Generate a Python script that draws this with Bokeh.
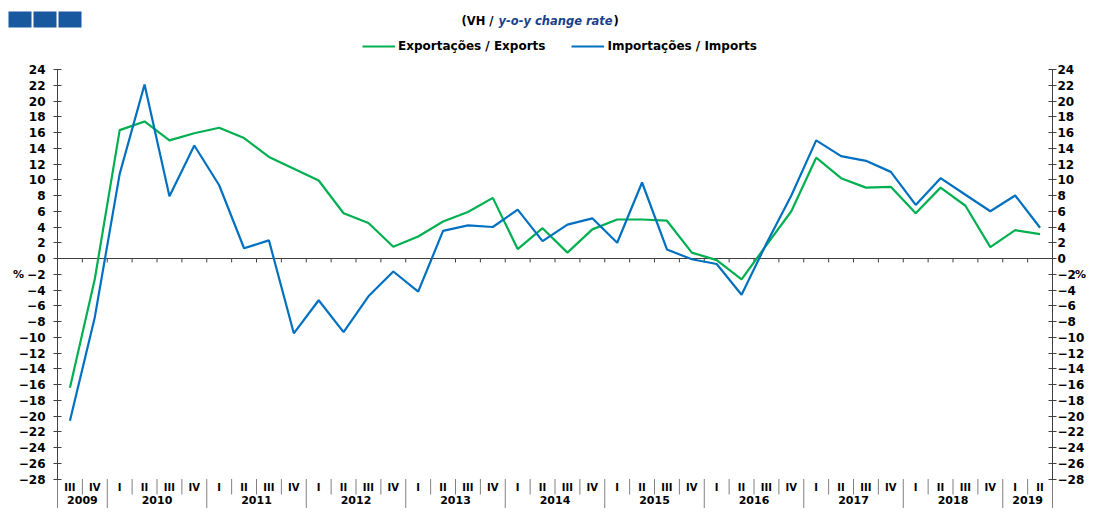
from bokeh.plotting import figure
from bokeh.models import (Range1d, LinearAxis, FixedTicker,
                          Legend, LegendItem)
from bokeh.core.properties import value
from bokeh.embed import file_html
from bokeh.resources import INLINE

# ---------------- data ----------------
quarters = ["III", "IV",
            "I", "II", "III", "IV",
            "I", "II", "III", "IV",
            "I", "II", "III", "IV",
            "I", "II", "III", "IV",
            "I", "II", "III", "IV",
            "I", "II", "III", "IV",
            "I", "II", "III", "IV",
            "I", "II", "III", "IV",
            "I", "II", "III", "IV",
            "I", "II"]
years = ["2009", "2010", "2011", "2012", "2013", "2014",
         "2015", "2016", "2017", "2018", "2019"]
year_quarters = [2, 4, 4, 4, 4, 4, 4, 4, 4, 4, 2]

exports = [-16.4, -2.6, 16.3, 17.4, 15.0, 15.9, 16.6, 15.3, 12.9, 11.4,
           9.9, 5.75, 4.5, 1.5, 2.8, 4.7, 5.9, 7.7, 1.2, 3.85,
           0.75, 3.7, 4.95, 4.95, 4.8, 0.75, -0.2, -2.65, 1.7, 6.0,
           12.8, 10.2, 9.0, 9.1, 5.75, 9.0, 6.7, 1.45, 3.6, 3.1]
imports = [-20.6, -7.45, 10.75, 22.1, 7.9, 14.35, 9.3, 1.3, 2.3, -9.5,
           -5.3, -9.35, -4.8, -1.65, -4.2, 3.5, 4.2, 4.0, 6.2, 2.2,
           4.3, 5.1, 2.0, 9.65, 1.15, -0.1, -0.7, -4.6, 1.9, 8.0,
           15.0, 13.0, 12.4, 11.0, 6.8, 10.2, 8.1, 6.0, 8.0, 3.9]
y_ticks = [-28, -26, -24, -22, -20, -18, -16, -14, -12, -10, -8, -6, -4, -2,
           0, 2, 4, 6, 8, 10, 12, 14, 16, 18, 20, 22, 24]

title_parts = ["(VH /", "y-o-y change rate", ")"]
series_names = ["Exportações / Exports", "Importações / Imports"]
unit_label = "%"

GREEN = "#00b050"
BLUE = "#0070c0"
AXIS = "#404040"
SEP = "#808080"
LOGO = "#17589f"
FONT = "DejaVu Sans"

W, H = 1086, 508

# ---------------- geometry helpers (screen px -> data) ----------------
PX = 24.875   # px per quarter
PY = 7.875    # px per 1 %
def sx(X):
    return (X - 57) / PX
def sy(Y):
    return 24 - (Y - 69) / PY

n = len(quarters)
xs = [i + 0.5 for i in range(n)]

p = figure(width=W, height=H,
           x_range=Range1d(sx(0), sx(W)), y_range=Range1d(sy(H), sy(0)),
           output_backend="svg", toolbar_location=None,
           x_axis_location=None, y_axis_location="left",
           min_border_left=0, min_border_right=0,
           min_border_top=0, min_border_bottom=0)
p.xgrid.visible = False
p.ygrid.visible = False
p.outline_line_color = None
p.background_fill_color = "white"
p.border_fill_color = "white"

right_axis = LinearAxis()
p.add_layout(right_axis, "right")

for ax, loc, standoff in ((p.yaxis[0], 0, 8), (right_axis, n, 1)):
    ax.fixed_location = loc
    ax.ticker = FixedTicker(ticks=y_ticks)
    ax.bounds = (y_ticks[0], y_ticks[-1])
    ax.axis_line_color = AXIS
    ax.major_tick_line_color = AXIS
    ax.major_tick_in = 4
    ax.major_tick_out = 4
    ax.minor_tick_in = 0
    ax.minor_tick_out = 0
    ax.major_label_standoff = standoff
    ax.major_label_text_font = FONT
    ax.major_label_text_font_style = "bold"
    ax.major_label_text_font_size = "12px"
    ax.major_label_text_color = "black"

# zero line (category axis) with boundary ticks
bx = list(range(1, n))
p.segment(x0=[0], y0=[0], x1=[n], y1=[0], line_color=AXIS, line_width=1)
p.segment(x0=bx, y0=[0] * len(bx), x1=bx, y1=[-0.5] * len(bx),
          line_color=AXIS, line_width=1)

# series
r_exp = p.line(xs, exports, line_color=GREEN, line_width=2.2)
r_imp = p.line(xs, imports, line_color=BLUE, line_width=2.2)

# two-level category labels below the plot
year_bounds = [0]
for q in year_quarters:
    year_bounds.append(year_bounds[-1] + q)
quarter_bounds = [b for b in range(1, n) if b not in year_bounds]
yb = y_ticks[0]
p.segment(x0=quarter_bounds, y0=[yb] * len(quarter_bounds),
          x1=quarter_bounds, y1=[sy(494)] * len(quarter_bounds),
          line_color=SEP, line_width=1)
p.segment(x0=year_bounds, y0=[yb] * len(year_bounds),
          x1=year_bounds, y1=[sy(H)] * len(year_bounds),
          line_color=SEP, line_width=1)
p.text(x=xs, y=[sy(487)] * n, text=quarters,
       text_font=value(FONT), text_font_style="bold", text_font_size="10px",
       text_align="center", text_baseline="middle", text_color="black")
year_x = [(year_bounds[i] + year_bounds[i + 1]) / 2 for i in range(len(years))]
p.text(x=year_x, y=[sy(499.5)] * len(years), text=years,
       text_font=value(FONT), text_font_style="bold", text_font_size="11px",
       text_align="center", text_baseline="middle", text_color="black")

# unit labels
p.text(x=[sx(18), sx(1080)], y=[-2, -2], text=[unit_label, unit_label],
       text_font=value(FONT), text_font_style="bold", text_font_size="11px",
       text_align="center", text_baseline="middle", text_color="black")

# title
p.text(x=[sx(493)], y=[sy(20)], text=[title_parts[0]],
       text_font=value(FONT), text_font_style="bold", text_font_size="11.5px",
       text_align="right", text_baseline="middle", text_color="black")
p.text(x=[sx(498)], y=[sy(20)], text=[title_parts[1]],
       text_font=value(FONT), text_font_style="bold italic", text_font_size="11.5px",
       text_align="left", text_baseline="middle", text_color="#1b3f8b")
p.text(x=[sx(613)], y=[sy(20)], text=[title_parts[2]],
       text_font=value(FONT), text_font_style="bold", text_font_size="11.5px",
       text_align="left", text_baseline="middle", text_color="black")

# legend
legend = Legend(items=[LegendItem(label=series_names[0], renderers=[r_exp]),
                       LegendItem(label=series_names[1], renderers=[r_imp])],
                orientation="horizontal", location=(362, H - 56),
                padding=0, margin=0, spacing=26,
                glyph_width=33, glyph_height=20, label_height=20,
                label_standoff=3,
                border_line_color=None, background_fill_alpha=0,
                label_text_font=FONT, label_text_font_style="bold",
                label_text_font_size="12px", label_text_color="black")
p.add_layout(legend)

# logo squares (top left)
p.quad(left=[sx(8), sx(33), sx(58)], right=[sx(31), sx(56), sx(81)],
       top=[sy(11)] * 3, bottom=[sy(27)] * 3,
       fill_color=LOGO, line_color=None)

open("out.html", "w").write(file_html(p, INLINE))
